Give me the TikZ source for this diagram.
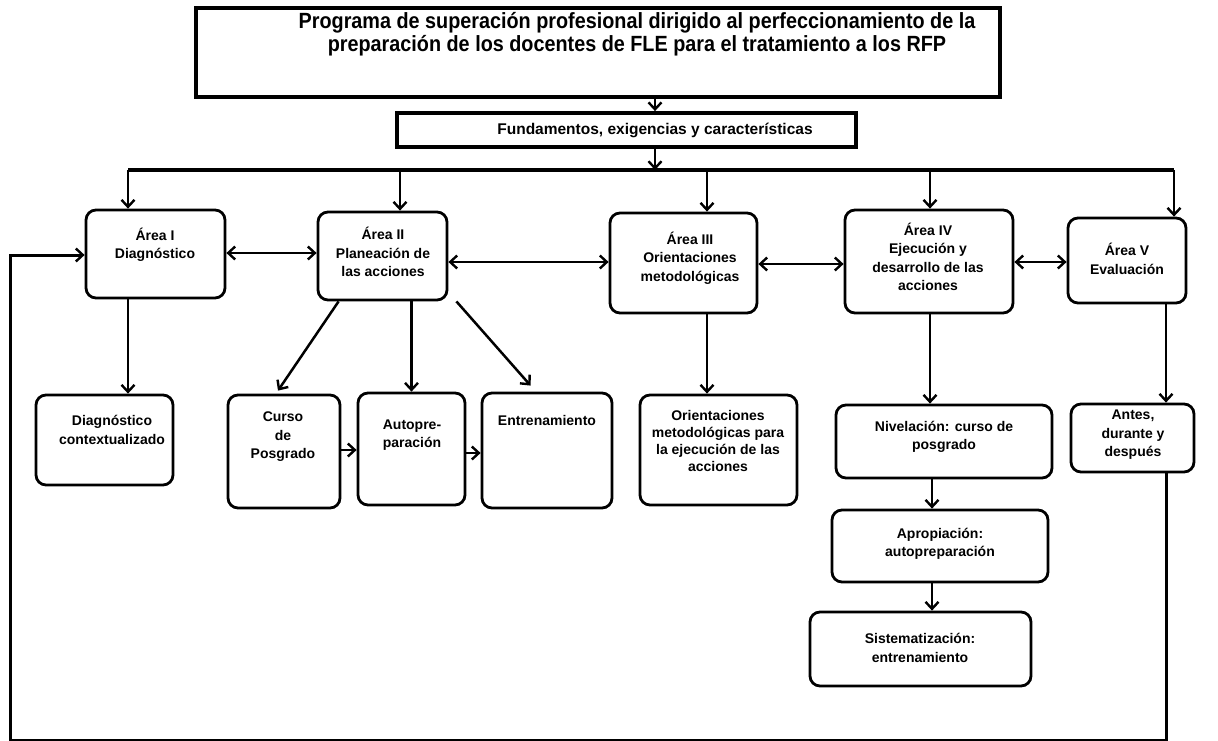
\documentclass[tikz,border=0pt]{standalone}
\usepackage{fontspec}
\setmainfont{Liberation Sans}
\newfontfamily\titlefont{Liberation Sans}[FakeStretch=0.9]
\usetikzlibrary{arrows.meta,calc}
\begin{document}
\begin{tikzpicture}[x=1pt,y=-1pt,
  rbox/.style={draw, line width=2.8pt, rounded corners=10pt, inner sep=0pt},
  sbox/.style={draw, line width=3.8pt, inner sep=0pt},
  txt/.style={font=\bfseries\fontsize{14}{18.5}\selectfont, align=center, inner sep=0pt},
  arr/.style={line width=2.5pt, -{Straight Barb[length=7pt,width=13pt,line width=2.4pt]}},
  darr/.style={line width=2.5pt, {Straight Barb[length=7pt,width=13pt,line width=2.4pt]}-{Straight Barb[length=7pt,width=13pt,line width=2.4pt]}},
  bus/.style={line width=3.8pt}]
\useasboundingbox (0,0) rectangle (1218,741);
\fill[white] (0,0) rectangle (1218,741);
% top boxes
\node[sbox, minimum width=804pt, minimum height=89pt] (top) at (598,52.5) {};
\node[txt, font=\titlefont\bfseries\fontsize{22}{22.5}\selectfont] (toptxt) at (637,34) {Programa de superación profesional dirigido al perfeccionamiento de la\\preparación de los docentes de FLE para el tratamiento a los RFP};
\node[sbox, minimum width=459pt, minimum height=34pt] (fund) at (626.5,130) {};
\node[txt, font=\bfseries\fontsize{15.5}{18}\selectfont] (fundtxt) at (655,130) {Fundamentos, exigencias y características};
% areas
\node[rbox, minimum width=139pt, minimum height=88pt] (A1) at (155.5,254) {};
\node[txt] at (155,245) {Área I\\Diagnóstico};
\node[rbox, minimum width=129pt, minimum height=88pt] (A2) at (382.5,256) {};
\node[txt] at (383,252) {Área II\\Planeación de\\las acciones};
\node[rbox, minimum width=147pt, minimum height=100pt] (A3) at (683.5,263) {};
\node[txt] at (690,258) {Área III\\Orientaciones\\metodológicas};
\node[rbox, minimum width=168pt, minimum height=103pt] (A4) at (929,261.5) {};
\node[txt] at (928,257) {Área IV\\Ejecución y\\desarrollo de las\\acciones};
\node[rbox, minimum width=118pt, minimum height=85pt] (A5) at (1127,260.5) {};
\node[txt] at (1127,259) {Área V\\Evaluación};
% lower boxes
\node[rbox, minimum width=137pt, minimum height=90pt] (D) at (104.5,440) {};
\node[txt] at (112,430) {Diagnóstico\\contextualizado};
\node[rbox, minimum width=112pt, minimum height=113pt] (C) at (284,451.5) {};
\node[txt] at (283,437) {Curso\\de\\Posgrado};
\node[rbox, minimum width=107pt, minimum height=112pt] (AP) at (411.5,449) {};
\node[txt] at (412,435) {Autopre-\\paración};
\node[rbox, minimum width=130pt, minimum height=115pt] (E) at (547,450.5) {};
\node[txt] at (547,420) {Entrenamiento};
\node[rbox, minimum width=157pt, minimum height=110pt] (O) at (718.5,450) {};
\node[txt, font=\bfseries\fontsize{14}{17}\selectfont] at (718,441) {Orientaciones\\metodológicas para\\la ejecución de las\\acciones};
\node[rbox, minimum width=216pt, minimum height=73pt] (N) at (944,441.5) {};
\node[txt] at (944,437) {Nivelación: curso de\\posgrado};
\node[rbox, minimum width=216pt, minimum height=72pt] (Ap) at (940,546) {};
\node[txt] at (940,544) {Apropiación:\\autopreparación};
\node[rbox, minimum width=221pt, minimum height=74pt] (S) at (920.5,649) {};
\node[txt] at (920,648) {Sistematización:\\entrenamiento};
\node[rbox, minimum width=123pt, minimum height=68pt] (Ant) at (1132.5,438) {};
\node[txt] at (1133,435) {Antes,\\durante y\\después};
% helper coordinates
\coordinate (xt) at (655,0);
\coordinate (busL) at (128,170);
\coordinate (busR) at (1174,170);
\coordinate (x1) at (128,0);
\coordinate (x2) at (400,0);
\coordinate (x3) at (707,0);
\coordinate (x4) at (930,0);
\coordinate (x5) at (1174,0);
\coordinate (x5b) at (1166,0);
\coordinate (x4b) at (932,0);
\coordinate (y12) at (0,253);
\coordinate (y23) at (0,262);
\coordinate (y34) at (0,264);
\coordinate (y45) at (0,262);
\coordinate (yCA) at (0,450);
\coordinate (yAE) at (0,453);
\coordinate (fbR) at (1166,740);
\coordinate (fbL) at (10,740);
\coordinate (fbT) at (10,255);
% connectors top
\draw[arr] (xt |- top.south) -- (xt |- fund.north);
\draw[bus] (busL) -- (busR);
\draw[arr] (xt |- fund.south) -- (xt |- busL);
\draw[arr] (busL) -- (x1 |- A1.north);
\draw[arr] (x2 |- busL) -- (x2 |- A2.north);
\draw[arr] (x3 |- busL) -- (x3 |- A3.north);
\draw[arr] (x4 |- busL) -- (x4 |- A4.north);
\draw[arr] (busR) -- (x5 |- A5.north);
% between areas
\draw[darr] (A1.east |- y12) -- (A2.west |- y12);
\draw[darr] (A2.east |- y23) -- (A3.west |- y23);
\draw[darr] (A3.east |- y34) -- (A4.west |- y34);
\draw[darr] (A4.east |- y45) -- (A5.west |- y45);
% down
\draw[arr] (x1 |- A1.south) -- (x1 |- D.north);
\draw[arr] ($(A2.south west)+(22,0)$) -- ($(C.north)+(-6,-3)$);
\draw[arr] (AP.north |- A2.south) -- (AP.north);
\draw[arr] ($(A2.south east)+(8,0)$) -- ($(E.north west)+(50,-6)$);
\draw[arr] (C.east |- yCA) -- (AP.west |- yCA);
\draw[arr] (AP.east |- yAE) -- (E.west |- yAE);
\draw[arr] (x3 |- A3.south) -- (x3 |- O.north);
\draw[arr] (x4 |- A4.south) -- (x4 |- N.north);
\draw[arr] (x4b |- N.south) -- (x4b |- Ap.north);
\draw[arr] (x4b |- Ap.south) -- (x4b |- S.north);
\draw[arr] (x5b |- A5.south) -- (x5b |- Ant.north);
% feedback
\draw[arr, line width=3pt] (x5b |- Ant.south) -- (fbR) -- (fbL) -- (fbT) -- (fbT -| A1.west);
\end{tikzpicture}
\end{document}
